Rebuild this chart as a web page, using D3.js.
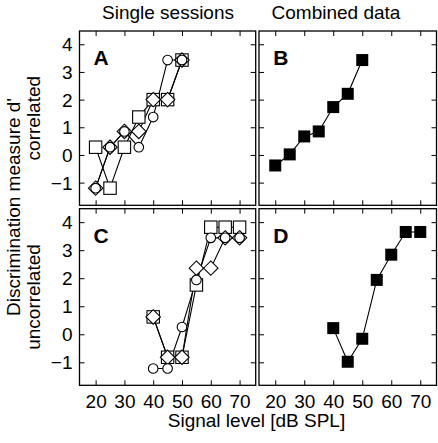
<!DOCTYPE html>
<html>
<head>
<meta charset="utf-8">
<script src="https://cdn.jsdelivr.net/npm/d3@7"></script>
<style>
html,body{margin:0;padding:0;background:#fff;}
svg{display:block;}
text{font-family:"Liberation Sans",Arial,Helvetica,sans-serif;fill:#000;}
</style>
</head>
<body>
<svg id="chart" width="438" height="443"></svg>
<script>
// ---- data ----
const levelsA = [20, 25, 30, 35, 40, 45, 50];
const levelsC = [40, 45, 50, 55, 60, 65, 70];
const aSquare  = [0.28, -1.2, 0.28, 1.37, 2.0, 2.0, 3.43];
const aDiamond = [-1.2, 0.28, 0.85, 0.85, 2.0, 2.0, 3.43];
const aCircle  = [-1.2, 0.28, 0.85, 0.28, 1.37, 3.43, 3.43];
const bCombined = [-0.38, 0.02, 0.67, 0.85, 1.73, 2.21, 3.43];
const cSquare  = [0.62, -0.82, -0.82, 1.76, 3.82, 3.82, 3.82];
const cDiamond = [0.62, -0.82, -0.82, 2.36, 2.36, 3.44, 3.44];
const cCircle  = [-1.22, -1.22, 0.26, 1.94, 3.44, 3.44, 3.44];
const dCombined = [0.22, -0.98, -0.16, 1.94, 2.84, 3.65, 3.65];
const xTicks = [20, 30, 40, 50, 60, 70];
const yTicks = [-1, 0, 1, 2, 3, 4];
const colTitles = ["Single sessions", "Combined data"];
const rowLabels = ["correlated", "uncorrelated"];
const panelLetters = ["A", "B", "C", "D"];
const yTitle = "Discrimination measure d'";
const xTitle = "Signal level [dB SPL]";

// ---- layout ----
const svg = d3.select("#chart");
const cols = [[79.5, 255.7], [259, 436.5]];
const rows = [[31, 205.3], [208.7, 385.3]];
const xDomain = [14.4, 75.6];
const yDomain = [-1.82, 4.48];
const FS = 19;

const panels = [
  {col:0,row:0,letter:panelLetters[0],series:[
    {shape:"square",x:levelsA,y:aSquare},
    {shape:"diamond",x:levelsA,y:aDiamond},
    {shape:"circle",x:levelsA,y:aCircle}]},
  {col:1,row:0,letter:panelLetters[1],series:[
    {shape:"filled",x:levelsA,y:bCombined}]},
  {col:0,row:1,letter:panelLetters[2],series:[
    {shape:"square",x:levelsC,y:cSquare},
    {shape:"diamond",x:levelsC,y:cDiamond},
    {shape:"circle",x:levelsC,y:cCircle}]},
  {col:1,row:1,letter:panelLetters[3],series:[
    {shape:"filled",x:levelsC,y:dCombined}]}
];

panels.forEach(p => {
  const [x0,x1] = cols[p.col], [y0,y1] = rows[p.row];
  const x = d3.scaleLinear().domain(xDomain).range([x0,x1]);
  const y = d3.scaleLinear().domain(yDomain).range([y1,y0]);
  const g = svg.append("g");

  const styleAxis = sel => {
    sel.select(".domain").remove();
    sel.selectAll(".tick line").attr("stroke","#000").attr("stroke-width",1);
    sel.selectAll(".tick text").style("font-size",FS+"px").attr("font-family",null);
  };

  // left axis
  const la = g.append("g").attr("transform",`translate(${x0},0)`)
    .call(d3.axisLeft(y).tickValues(yTicks).tickSizeInner(-5).tickSizeOuter(0).tickPadding(7)
      .tickFormat(p.col===0 ? d3.format("d") : () => ""));
  styleAxis(la);
  la.selectAll(".tick text").attr("dy","0.35em");
  // right axis
  styleAxis(g.append("g").attr("transform",`translate(${x1},0)`)
    .call(d3.axisRight(y).tickValues(yTicks).tickSizeInner(-5).tickSizeOuter(0).tickFormat(() => "")));
  // top axis
  styleAxis(g.append("g").attr("transform",`translate(0,${y0})`)
    .call(d3.axisTop(x).tickValues(xTicks).tickSizeInner(-5).tickSizeOuter(0).tickFormat(() => "")));
  // bottom axis
  const ba = g.append("g").attr("transform",`translate(0,${y1})`)
    .call(d3.axisBottom(x).tickValues(xTicks).tickSizeInner(-5).tickSizeOuter(0).tickPadding(9)
      .tickFormat(p.row===1 ? d3.format("d") : () => ""));
  styleAxis(ba);

  // frame
  g.append("rect").attr("x",x0).attr("y",y0).attr("width",x1-x0).attr("height",y1-y0)
    .attr("fill","none").attr("stroke","#000").attr("stroke-width",1.3);

  // letter
  g.append("text").attr("x",x(20)-2).attr("y",y0+34)
    .style("font-size","21px").style("font-weight","bold").text(p.letter);

  const line = d3.line().x(d => x(d[0])).y(d => y(d[1]));
  p.series.forEach(s => {
    const pts = s.x.map((v,i) => [v, s.y[i]]);
    g.append("path").attr("d",line(pts)).attr("fill","none").attr("stroke","#000").attr("stroke-width",1.1);
  });
  p.series.forEach(s => {
    const pts = s.x.map((v,i) => [v, s.y[i]]);
    const m = g.append("g");
    pts.forEach(d => {
      const cx = x(d[0]), cy = y(d[1]);
      if (s.shape === "square") {
        m.append("rect").attr("x",cx-6.2).attr("y",cy-6.2).attr("width",12.4).attr("height",12.4)
          .attr("fill","#fff").attr("stroke","#000").attr("stroke-width",1.1);
      } else if (s.shape === "diamond") {
        const r = 7.2;
        m.append("path").attr("d",`M${cx},${cy-r}L${cx+r},${cy}L${cx},${cy+r}L${cx-r},${cy}Z`)
          .attr("fill","#fff").attr("stroke","#000").attr("stroke-width",1.1);
      } else if (s.shape === "circle") {
        m.append("circle").attr("cx",cx).attr("cy",cy).attr("r",4.8)
          .attr("fill","#fff").attr("stroke","#000").attr("stroke-width",1.1);
      } else {
        m.append("rect").attr("x",cx-6).attr("y",cy-6).attr("width",12).attr("height",12)
          .attr("fill","#000");
      }
    });
  });
});

// column titles
colTitles.forEach((t,i) => {
  svg.append("text").attr("x",[168,336][i]).attr("y",19).attr("text-anchor","middle")
    .style("font-size",FS+"px").text(t);
});
// x title
svg.append("text").attr("x",256.5).attr("y",427).attr("text-anchor","middle")
  .style("font-size",FS+"px").text(xTitle);
// y title
svg.append("text").attr("transform","translate(20,207) rotate(-90)").attr("text-anchor","middle")
  .style("font-size",FS+"px").text(yTitle);
rowLabels.forEach((t,i) => {
  const c = (rows[i][0]+rows[i][1])/2;
  svg.append("text").attr("transform",`translate(40,${c}) rotate(-90)`).attr("text-anchor","middle")
    .style("font-size",FS+"px").text(t);
});
</script>
</body>
</html>
